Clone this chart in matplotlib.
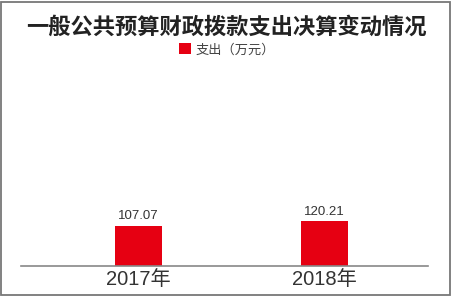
import matplotlib
matplotlib.use("Agg")
import matplotlib.pyplot as plt
from matplotlib.patches import Rectangle, Patch

categories = ["2017年", "2018年"]
values = [107.07, 120.21]
value_labels = ["107.07", "120.21"]
title = "一般公共预算财政拨款支出决算变动情况"
legend_label = "支出（万元）"

W, H = 452, 297
fig = plt.figure(figsize=(W / 100, H / 100), dpi=100)
fig.patch.set_facecolor("white")

# axes: x 21..428, y 60..266 (pixels from top)
ax = fig.add_axes([21 / W, (H - 266) / H, (428 - 21) / W, (266 - 60) / H])
bar_color = "#E60012"
x = list(range(len(categories)))
bars = ax.bar(x, values, width=0.253, color=bar_color, zorder=2)
ax.set_xlim(-0.633, 1.56)
ax.set_ylim(0, 551)

for b, lab in zip(bars, value_labels):
    ax.annotate(lab, (b.get_x() + b.get_width() / 2, b.get_height()),
                xytext=(0, 2.5), textcoords="offset points",
                ha="center", va="bottom", fontsize=9.5, color="#333333",
                family=["Liberation Sans", "Noto Sans CJK SC"])

ax.set_xticks(x)
ax.set_xticklabels(categories, fontsize=14.5, color="#333333",
                   family=["Liberation Sans", "Noto Sans CJK SC"])
ax.tick_params(axis="x", length=0, pad=3)
ax.set_yticks([])
for s in ["top", "right", "left"]:
    ax.spines[s].set_visible(False)
ax.spines["bottom"].set_color("#888888")
ax.spines["bottom"].set_linewidth(1.2)
ax.set_facecolor("none")

fig.text(0.5, 1 - 27 / H, title, ha="center", va="center", fontsize=16,
         fontweight="bold", color="#222222",
         family=["Noto Sans CJK SC", "DejaVu Sans"])

leg = fig.legend(handles=[Patch(facecolor=bar_color, edgecolor="none", label=legend_label)],
                 loc="center", bbox_to_anchor=(227 / W, 1 - 50 / H), frameon=False,
                 handlelength=0.9, handleheight=0.9, handletextpad=0.3,
                 prop={"family": ["Noto Sans CJK SC", "DejaVu Sans"], "size": 9.5})
for t in leg.get_texts():
    t.set_color("#444444")

fig.patches.append(Rectangle((1.5 / W, 2.5 / H), (W - 3.5) / W, (H - 4.5) / H,
                             transform=fig.transFigure, fill=False,
                             edgecolor="#777777", linewidth=1.3))

fig.savefig("out.png", dpi=100, facecolor="white")
